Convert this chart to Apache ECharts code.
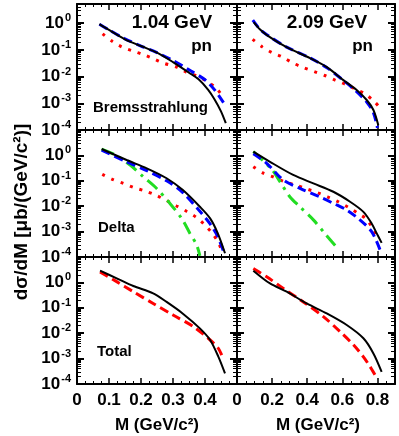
<!DOCTYPE html>
<html>
<head>
<meta charset="utf-8">
<script src="https://cdn.jsdelivr.net/npm/echarts@6/dist/echarts.min.js"></script>
<style>
  html, body { margin: 0; padding: 0; background: #fff; }
  #chart { width: 399px; height: 436px; }
</style>
</head>
<body>
<div id="chart"></div>
<script>
// dσ/dM 读图数据, M 单位 GeV/c^2, 截面 μb/(GeV/c^2)
// 1.04 GeV, Bremsstrahlung
const bremLowM = [0.07, 0.10, 0.15, 0.20, 0.25, 0.30, 0.35, 0.38, 0.41, 0.43, 0.45, 0.465]
const bremLowBlack = [0.93, 0.56, 0.25, 0.14, 0.079, 0.035, 0.014, 0.0079, 0.0032, 0.0014, 5.0e-4, 1.8e-4]
const bremLowBlueM = [0.07, 0.10, 0.15, 0.20, 0.25, 0.30, 0.35, 0.40, 0.43, 0.462]
const bremLowBlue = [0.92, 0.56, 0.26, 0.14, 0.079, 0.04, 0.018, 0.0076, 0.0032, 8.9e-4]
const bremLowRedM = [0.08, 0.11, 0.14, 0.175, 0.21, 0.24, 0.27, 0.31, 0.34, 0.375, 0.405, 0.435, 0.457]
const bremLowRed = [0.40, 0.21, 0.13, 0.091, 0.065, 0.046, 0.032, 0.023, 0.015, 0.0105, 0.0068, 0.0037, 0.0017]

// 2.09 GeV, Bremsstrahlung
const bremHighM = [0.095, 0.13, 0.17, 0.28, 0.416, 0.51, 0.606, 0.68, 0.74, 0.777, 0.805]
const bremHighBlack = [1.1, 0.59, 0.36, 0.13, 0.049, 0.023, 0.0074, 0.0032, 0.0013, 5.6e-4, 1.5e-4]
const bremHighBlueM = [0.09, 0.13, 0.17, 0.28, 0.416, 0.51, 0.606, 0.68, 0.74, 0.777, 0.80]
const bremHighBlue = [1.3, 0.6, 0.37, 0.13, 0.05, 0.022, 0.0072, 0.0028, 0.0011, 4.5e-4, 1.2e-4]
const bremHighRedM = [0.089, 0.144, 0.2, 0.26, 0.316, 0.377, 0.44, 0.5, 0.559, 0.62, 0.68, 0.732, 0.786, 0.824]
const bremHighRed = [0.25, 0.13, 0.079, 0.054, 0.033, 0.022, 0.0155, 0.011, 0.0074, 0.0051, 0.0033, 0.0022, 0.0011, 5.6e-4]

// 1.04 GeV, Delta
const deltaLowM = [0.077, 0.155, 0.218, 0.28, 0.33, 0.384, 0.416, 0.44, 0.4625]
const deltaLowBlack = [1.78, 0.66, 0.31, 0.126, 0.044, 0.0095, 0.0033, 8.5e-4, 1.4e-4]
const deltaLowBlueM = [0.077, 0.155, 0.218, 0.28, 0.33, 0.384, 0.416, 0.44, 0.46]
const deltaLowBlue = [1.6, 0.56, 0.25, 0.1, 0.035, 0.0063, 0.002, 6.3e-4, 1.4e-4]
const deltaLowGreenM = [0.077, 0.119, 0.166, 0.207, 0.249, 0.29, 0.327, 0.353, 0.374, 0.384]
const deltaLowGreen = [1.78, 1.05, 0.42, 0.145, 0.05, 0.013, 0.0033, 8.5e-4, 3.0e-4, 1.1e-4]
const deltaLowRedM = [0.079, 0.11, 0.145, 0.178, 0.212, 0.247, 0.28, 0.311, 0.343, 0.372, 0.397, 0.423, 0.442, 0.455]
const deltaLowRed = [0.18, 0.115, 0.079, 0.054, 0.04, 0.027, 0.0166, 0.0102, 0.0062, 0.0037, 0.00195, 8.5e-4, 3.6e-4, 1.5e-4]

// 2.09 GeV, Delta
const deltaHighM = [0.093, 0.188, 0.32, 0.435, 0.549, 0.644, 0.72, 0.767, 0.796, 0.824]
const deltaHighBlack = [1.41, 0.56, 0.17, 0.079, 0.037, 0.015, 0.006, 0.0021, 8.5e-4, 3.6e-4]
const deltaHighBlueM = [0.093, 0.169, 0.264, 0.359, 0.473, 0.549, 0.625, 0.7, 0.767, 0.815]
const deltaHighBlue = [1.15, 0.49, 0.107, 0.05, 0.023, 0.0129, 0.0071, 0.0029, 0.001, 1.9e-4]
const deltaHighGreenM = [0.093, 0.198, 0.25, 0.302, 0.36, 0.435, 0.5, 0.568]
const deltaHighGreen = [1.41, 0.28, 0.081, 0.023, 0.0093, 0.0029, 8.5e-4, 2.4e-4]
const deltaHighRedM = [0.093, 0.15, 0.21, 0.27, 0.334, 0.397, 0.458, 0.518, 0.577, 0.634, 0.69, 0.74, 0.777, 0.81]
const deltaHighRed = [0.36, 0.2, 0.138, 0.093, 0.068, 0.048, 0.034, 0.023, 0.015, 0.0091, 0.0052, 0.003, 0.00115, 4.4e-4]

// Total
const totalLowM = [0.072, 0.124, 0.176, 0.238, 0.28, 0.33, 0.384, 0.416, 0.442, 0.4625]
const totalLowBlack = [2.9, 1.45, 0.72, 0.37, 0.17, 0.06, 0.0155, 0.0054, 0.00117, 2.6e-4]
const totalLowRedM = [0.072, 0.124, 0.176, 0.238, 0.3, 0.364, 0.416, 0.442, 0.4575]
const totalLowRed = [2.6, 1.07, 0.43, 0.148, 0.052, 0.018, 0.0054, 0.0025, 9.3e-4]
const totalHighM = [0.093, 0.188, 0.283, 0.397, 0.511, 0.625, 0.72, 0.777, 0.824]
const totalHighBlack = [2.9, 0.91, 0.43, 0.148, 0.06, 0.021, 0.0063, 0.0016, 3.0e-4]
const totalHighRedM = [0.093, 0.169, 0.264, 0.378, 0.492, 0.587, 0.663, 0.72, 0.758, 0.792]
const totalHighRed = [3.5, 1.66, 0.58, 0.17, 0.045, 0.0115, 0.0035, 0.00117, 4.8e-4, 1.95e-4]

// 坐标轴刻度
const xMaxes = [0.5, 0.9]
const xSteps = [0.1, 0.2]
const yTopMax = [0.72, 1, 1]   // log10, 每行上限
const decades = [-4, -3, -2, -1, 0]

const FONT = 'Liberation Sans, Arial, sans-serif'
const cols = [{ left: 77, width: 160 }, { left: 237, width: 158 }]
const rows = [{ top: 4, height: 126 }, { top: 130, height: 127 }, { top: 257, height: 127 }]

const toLog = (ms, vs) => ms.map((m, i) => [m, Math.log10(vs[i])])

// 对数小刻度
const minorLog = []
decades.forEach(n => {
    for (let k = 2; k <= 9; k++) {
        minorLog.push(Math.log10(k) + n)
    }
})

const grids = []
const xAxes = []
const yAxes = []

rows.forEach((r, ri) => {
    cols.forEach((c, ci) => {
        const g = grids.length
        grids.push({ left: c.left, width: c.width, top: r.top, height: r.height, show: false })
        const ymax = yTopMax[ri]
        ;['bottom', 'top'].forEach(pos => {
            xAxes.push({
                type: 'value', gridIndex: g, position: pos,
                min: 0, max: xMaxes[ci], interval: xSteps[ci],
                axisLine: { onZero: false, lineStyle: { color: '#000', width: 2 } },
                axisTick: { inside: true, length: 6, lineStyle: { color: '#000', width: 1.5 } },
                minorTick: { show: true, splitNumber: 4, length: 3, lineStyle: { color: '#000', width: 1 } },
                splitLine: { show: false },
                axisLabel: {
                    show: pos === 'bottom' && ri === 2,
                    showMaxLabel: false,
                    margin: 8,
                    color: '#000', fontFamily: FONT, fontWeight: 'bold', fontSize: 17,
                    formatter: v => (v === 0 ? '0' : String(+v.toFixed(1)))
                }
            })
        })
        ;['left', 'right'].forEach(pos => {
            yAxes.push({
                type: 'value', gridIndex: g, position: pos,
                min: -4, max: ymax, interval: 1,
                axisLine: { onZero: false, lineStyle: { color: '#000', width: 2 } },
                axisTick: { inside: true, length: 7, lineStyle: { color: '#000', width: 2 } },
                splitLine: { show: false },
                axisLabel: {
                    show: pos === 'left' && ci === 0,
                    margin: 6,
                    color: '#000',
                    formatter: v => {
                        const n = Math.round(v)
                        if (Math.abs(v - n) > 1e-6 || n > 0) return ''
                        return '{b|10}{s|' + n + '}'
                    },
                    rich: {
                        b: { fontFamily: FONT, fontWeight: 'bold', fontSize: 17, color: '#000' },
                        s: { fontFamily: FONT, fontWeight: 'bold', fontSize: 11, color: '#000', padding: [0, 0, 10, 1] }
                    }
                }
            })
            yAxes.push({
                type: 'value', gridIndex: g, position: pos,
                min: -4, max: ymax,
                axisLine: { show: false, onZero: false },
                axisTick: {
                    inside: true, length: 4,
                    customValues: minorLog.filter(v => v < ymax),
                    lineStyle: { color: '#000', width: 1 }
                },
                splitLine: { show: false },
                axisLabel: { show: false }
            })
        })
    })
})

const series = []
const addLine = (g, data, color, type, width) => {
    series.push({
        type: 'line', xAxisIndex: g * 2, yAxisIndex: g * 4,
        data: data, showSymbol: false, smooth: 0.3, clip: true, silent: true,
        lineStyle: { color: color, type: type, width: width, cap: 'butt' }
    })
}

const RED = '#ff0000'
const BLUE = '#0000ff'
const GREEN = '#22dd22'
const DOT = [3, 7]
const DASH = [9, 5]
const DASHDOT = [13, 6, 3, 6]

// Bremsstrahlung
addLine(0, toLog(bremLowRedM, bremLowRed), RED, DOT, 3)
addLine(0, toLog(bremLowBlueM, bremLowBlue), BLUE, DASH, 3)
addLine(0, toLog(bremLowM, bremLowBlack), '#000', 'solid', 2)
addLine(1, toLog(bremHighRedM, bremHighRed), RED, DOT, 3)
addLine(1, toLog(bremHighBlueM, bremHighBlue), BLUE, DASH, 3)
addLine(1, toLog(bremHighM, bremHighBlack), '#000', 'solid', 2)
// Delta
addLine(2, toLog(deltaLowRedM, deltaLowRed), RED, DOT, 3)
addLine(2, toLog(deltaLowGreenM, deltaLowGreen), GREEN, DASHDOT, 3)
addLine(2, toLog(deltaLowBlueM, deltaLowBlue), BLUE, DASH, 3)
addLine(2, toLog(deltaLowM, deltaLowBlack), '#000', 'solid', 2)
addLine(3, toLog(deltaHighRedM, deltaHighRed), RED, DOT, 3)
addLine(3, toLog(deltaHighGreenM, deltaHighGreen), GREEN, DASHDOT, 3)
addLine(3, toLog(deltaHighBlueM, deltaHighBlue), BLUE, DASH, 3)
addLine(3, toLog(deltaHighM, deltaHighBlack), '#000', 'solid', 2)
// Total
addLine(4, toLog(totalLowRedM, totalLowRed), RED, DASH, 3)
addLine(4, toLog(totalLowM, totalLowBlack), '#000', 'solid', 2)
addLine(5, toLog(totalHighRedM, totalHighRed), RED, DASH, 3)
addLine(5, toLog(totalHighM, totalHighBlack), '#000', 'solid', 2)

const txt = (x, y, text, size, align) => ({
    type: 'text', x: x, y: y, silent: true,
    style: {
        text: text, fill: '#000', font: 'bold ' + size + 'px ' + FONT,
        textAlign: align || 'center', textVerticalAlign: 'middle'
    }
})

const graphic = [
    txt(172, 23, '1.04 GeV', 19),
    txt(212, 46, 'pn', 17, 'right'),
    txt(327, 23, '2.09 GeV', 19),
    txt(373, 46, 'pn', 17, 'right'),
    txt(93, 108, 'Bremsstrahlung', 15, 'left'),
    txt(98, 228, 'Delta', 15, 'left'),
    txt(97, 352, 'Total', 15, 'left'),
    txt(157, 425, 'M (GeV/c²)', 17),
    txt(318, 425, 'M (GeV/c²)', 17),
    {
        type: 'text', x: 22, y: 212, rotation: Math.PI / 2, silent: true,
        style: {
            text: 'dσ/dM [μb/(GeV/c²)]', fill: '#000', font: 'bold 19px ' + FONT,
            textAlign: 'center', textVerticalAlign: 'middle'
        }
    }
]

const chart = echarts.init(document.getElementById('chart'), null, { renderer: 'canvas' })
chart.setOption({
    animation: false,
    backgroundColor: '#fff',
    grid: grids,
    xAxis: xAxes,
    yAxis: yAxes,
    series: series,
    graphic: graphic
})
</script>
</body>
</html>
